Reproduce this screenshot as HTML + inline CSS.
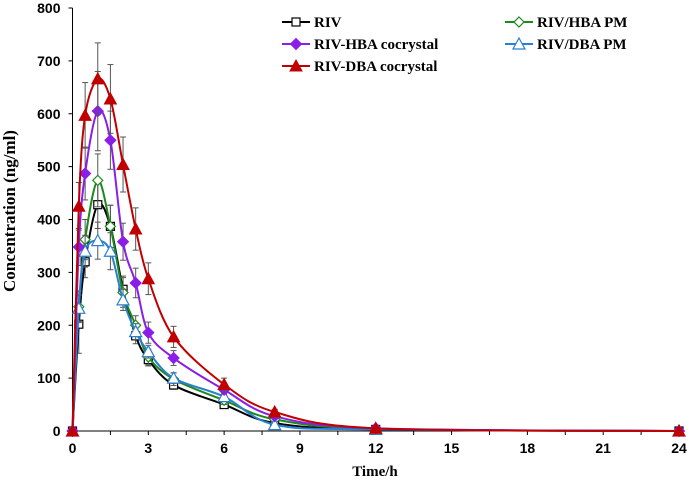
<!DOCTYPE html>
<html><head><meta charset="utf-8"><style>
body{margin:0;background:#fff}
svg{display:block}
</style></head><body>
<svg id="chart" width="689" height="483" xmlns="http://www.w3.org/2000/svg"></svg>
<script>
const times=[0,0.25,0.5,1,1.5,2,2.5,3,4,6,8,12,24];
const rivVals=[0,202,320,428,387,268,180,135,87,50,15,3,0];
const rivSd=[0,55,30,45,40,25,15,12,8,6,3,1,0];
const hbaCocVals=[0,348,487,605,550,358,280,186,138,78,28,5,0];
const hbaCocSd=[0,35,50,75,55,35,28,20,14,8,4,1,0];
const dbaCocVals=[0,425,597,666,628,504,382,288,178,88,36,5,0];
const dbaCocSd=[0,45,62,68,65,52,40,30,20,12,5,1,0];
const hbaPmVals=[0,235,362,474,387,262,200,140,98,58,22,4,0];
const hbaPmSd=[0,30,38,50,40,28,18,15,12,8,4,1,0];
const dbaPmVals=[0,232,340,360,340,248,188,150,100,65,12,3,0];
const dbaPmSd=[0,25,30,35,35,20,15,12,10,7,3,1,0];
const xTicks=[0,3,6,9,12,15,18,21,24];
const yTicks=[0,100,200,300,400,500,600,700,800];
const seriesNames=["RIV","RIV-HBA cocrystal","RIV-DBA cocrystal","RIV/HBA PM","RIV/DBA PM"];

const svg=document.getElementById('chart');
const NS='http://www.w3.org/2000/svg';
const X0=72.5,X1=679,Y0=431,Y1=8;
const xs=t=>X0+(t/24)*(X1-X0);
const ys=v=>Y0-(v/800)*(Y0-Y1);
function mk(tag,attrs,parent){const e=document.createElementNS(NS,tag);for(const k in attrs)e.setAttribute(k,attrs[k]);(parent||svg).appendChild(e);return e;}
const F='"Liberation Serif",serif', FS='"Liberation Sans",Arial,sans-serif';

let ax=mk('line',{x1:X0,y1:Y0,x2:X1,y2:Y0,stroke:'#000','stroke-width':1});

let ay=mk('line',{x1:X0,y1:Y0,x2:X0,y2:Y1,stroke:'#000','stroke-width':1});

for(let t=0;t<=24;t+=1.5){mk('line',{x1:xs(t),y1:Y0,x2:xs(t),y2:Y0+4,stroke:'#000'});}
xTicks.forEach(t=>{
  const e=mk('text',{x:xs(t),y:Y0+22,'text-anchor':'middle','font-family':FS,'font-weight':'bold','font-size':14});
  e.textContent=t;
  
});
yTicks.forEach(v=>{
  mk('line',{x1:X0,y1:ys(v),x2:X0-4,y2:ys(v),stroke:'#000'});
  const e=mk('text',{x:X0-12,y:ys(v)+5,'text-anchor':'end','font-family':FS,'font-weight':'bold','font-size':14});
  e.textContent=v;
  
});
let xt=mk('text',{x:375,y:476,'text-anchor':'middle','font-family':F,'font-weight':'bold','font-size':15});
xt.textContent='Time/h';
let yt=mk('text',{x:0,y:0,'text-anchor':'middle','font-family':F,'font-weight':'bold','font-size':17,transform:'translate(15,211) rotate(-90)'});
yt.textContent='Concentration (ng/ml)';

function marker(g,type,x,y,color){
  if(type==='square')mk('rect',{x:x-4,y:y-4,width:8,height:8,fill:'#fff',stroke:color,'stroke-width':1.2},g);
  if(type==='diamondF')mk('polygon',{points:`${x},${y-5.5} ${x+5.5},${y} ${x},${y+5.5} ${x-5.5},${y}`,fill:color,stroke:color},g);
  if(type==='diamondO')mk('polygon',{points:`${x},${y-5} ${x+5},${y} ${x},${y+5} ${x-5},${y}`,fill:'#fff',stroke:color,'stroke-width':1.2},g);
  if(type==='triF')mk('polygon',{points:`${x},${y-6} ${x+6},${y+5} ${x-6},${y+5}`,fill:color,stroke:color},g);
  if(type==='triO')mk('polygon',{points:`${x},${y-6} ${x+6},${y+5} ${x-6},${y+5}`,fill:'#fff',stroke:color,'stroke-width':1.2},g);
}
function smooth(pts){
  let d=`M${pts[0][0]},${pts[0][1]}`;
  for(let i=0;i<pts.length-1;i++){
    const p0=pts[Math.max(0,i-1)],p1=pts[i],p2=pts[i+1],p3=pts[Math.min(pts.length-1,i+2)];
    const k=0.16;
    d+=` C${p1[0]+(p2[0]-p0[0])*k},${p1[1]+(p2[1]-p0[1])*k} ${p2[0]-(p3[0]-p1[0])*k},${p2[1]-(p3[1]-p1[1])*k} ${p2[0]},${p2[1]}`;
  }
  return d;
}
const series=[
  {vals:rivVals,sd:rivSd,color:'#000',m:'square',name:'series-riv'},
  {vals:hbaPmVals,sd:hbaPmSd,color:'#1a8a1a',m:'diamondO',name:'series-riv-hba-pm'},
  {vals:dbaPmVals,sd:dbaPmSd,color:'#2a7fd0',m:'triO',name:'series-riv-dba-pm'},
  {vals:hbaCocVals,sd:hbaCocSd,color:'#8a1ee8',m:'diamondF',name:'series-riv-hba-cocrystal'},
  {vals:dbaCocVals,sd:dbaCocSd,color:'#c00000',m:'triF',name:'series-riv-dba-cocrystal'}
];
series.forEach(s=>{
  const g=mk('g',{});
  
  s.vals.forEach((v,i)=>{
    if(s.sd[i]>0){const x=xs(times[i]);
      mk('line',{x1:x,y1:ys(v-s.sd[i]),x2:x,y2:ys(v+s.sd[i]),stroke:'#555','stroke-width':1},g);
      mk('line',{x1:x-3,y1:ys(v+s.sd[i]),x2:x+3,y2:ys(v+s.sd[i]),stroke:'#555'},g);
      mk('line',{x1:x-3,y1:ys(v-s.sd[i]),x2:x+3,y2:ys(v-s.sd[i]),stroke:'#555'},g);}
  });
  const pts=s.vals.map((v,i)=>[xs(times[i]),ys(v)]);
  mk('path',{d:smooth(pts),fill:'none',stroke:s.color,'stroke-width':2},g);
  pts.forEach(p=>marker(g,s.m,p[0],p[1],s.color));
});
const leg=[
  [282,22,'#000','square',0],[282,44,'#8a1ee8','diamondF',1],[282,66,'#c00000','triF',2],
  [505,22,'#1a8a1a','diamondO',3],[505,44,'#2a7fd0','triO',4]
];
leg.forEach(l=>{
  const g=mk('g',{});
  
  mk('line',{x1:l[0],y1:l[1],x2:l[0]+28,y2:l[1],stroke:l[2],'stroke-width':2},g);
  marker(g,l[3],l[0]+14,l[1],l[2]);
  const t=mk('text',{x:l[0]+32,y:l[1]+5,'font-family':F,'font-weight':'bold','font-size':15},g);
  t.textContent=seriesNames[l[4]];
});
</script>
</body></html>
